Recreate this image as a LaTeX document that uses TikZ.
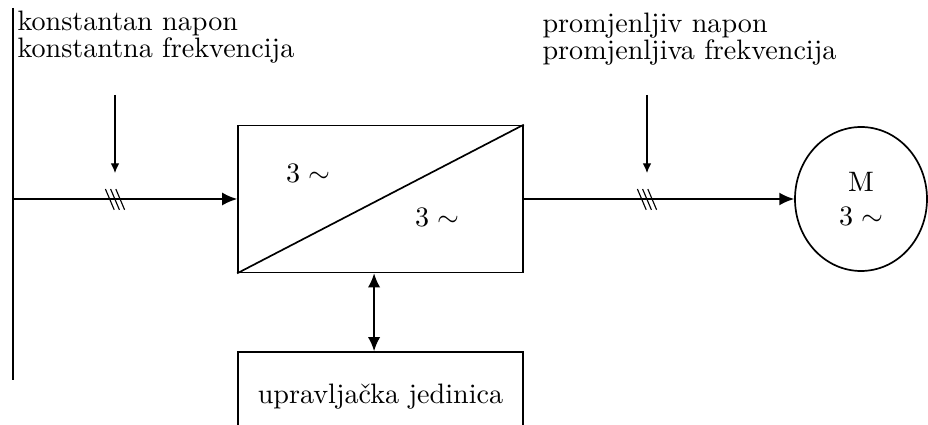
\documentclass[tikz,border=0pt]{standalone}
\usetikzlibrary{arrows.meta,positioning,shapes.geometric}

\begin{document}
\begin{tikzpicture}[
    block/.style={draw, semithick, minimum width=3.5625cm, inner sep=0pt},
    link/.style={-{Latex[length=5.3pt,width=4.6pt]}, semithick},
    duallink/.style={{Latex[length=5pt,width=4.4pt]}-{Latex[length=5pt,width=4.4pt]}, semithick},
    hint/.style={-{Latex[length=3.4pt,width=3pt]}, thin},
    caption/.style={align=left, inner sep=0pt, anchor=north west, font=\fontsize{10}{9.6}\selectfont}
]
\useasboundingbox (0,0) rectangle (11.6,5.3125);
% supply bus
\coordinate (busTop) at (0.1625,5.2125);
\coordinate (busBot) at (0.1625,0.5625);
\coordinate (busTap) at (0.1625,2.825);
\draw[semithick] (busTop) -- (busBot);
% converter, motor, control unit
\node[block, minimum height=1.8375cm] (conv) at (4.756,2.825) {};
\node (convIn) at (3.85,3.15) {$3\sim$};
\node (convOut) at (5.4625,2.6) {$3\sim$};
\node[draw, semithick, ellipse, minimum width=1.65cm, minimum height=1.8cm, inner sep=0pt, align=center] (motor) at (10.7625,2.825) {M\\$3\sim$};
\node[block, minimum height=1.105cm] (ctrl) at (4.756,0.36) {upravlja\v{c}ka jedinica};
\draw[semithick] (conv.south west) -- (conv.north east);
% labels
\node[caption] (inText) at (0.2125,5.1875) {konstantan napon\\konstantna frekvencija};
\node[caption] (outText) at (6.775,5.16) {promjenljiv napon\\promjenljiva frekvencija};
% connectors
\draw[link] (busTap) -- (conv.west);
\draw[link] (conv.east) -- (motor.west);
\draw[duallink] ([xshift=-0.08cm]conv.south) -- ([xshift=-0.08cm]ctrl.north);
\coordinate (inHint) at (1.4375,4.125);
\coordinate (inMark) at (1.4375,3.15);
\coordinate (outHint) at (8.0875,4.125);
\coordinate (outMark) at (8.0875,3.15);
\draw[hint] (inHint) -- (inMark);
\draw[hint] (outHint) -- (outMark);
% three-phase marks
\foreach \x in {1.4375,8.0875}
  \foreach \dx in {-0.065,0,0.065}
    \draw[thin] (\x+\dx-0.055,2.95) -- (\x+\dx+0.055,2.69);
\end{tikzpicture}
\end{document}
